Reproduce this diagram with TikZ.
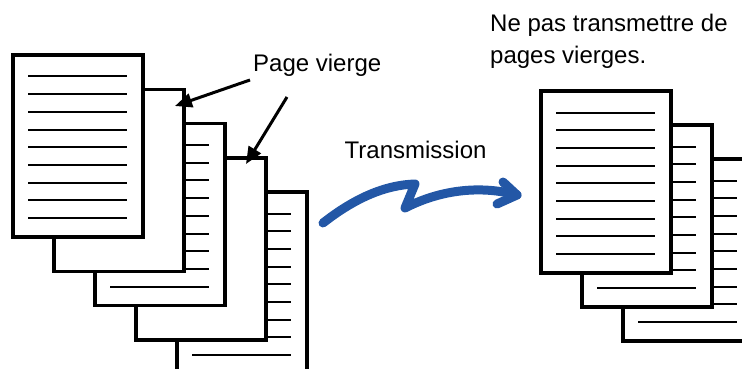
\documentclass[tikz,border=0pt]{standalone}
\usepackage{fontspec}
\setmainfont{Liberation Sans}
\usetikzlibrary{arrows.meta}
\definecolor{sendblue}{RGB}{35,87,166}
% nine ruled lines of a sheet whose top left corner is (#1,#2)
\newcommand{\sheetlines}[2]{%
  \foreach \k in {0,...,8}
    \draw[textline] (#1+15,#2+21.5+17.7*\k) -- ++(99,0);}
\begin{document}
\begin{tikzpicture}[x=1pt, y=-1pt,
  sheet/.style={draw, fill=white, line width=3.3pt},
  textline/.style={line width=2pt},
  note/.style={font=\fontsize{24}{28}\selectfont, inner sep=0pt, anchor=base west},
  pointer/.style={line width=3pt, -{Triangle[length=17pt, width=14pt]}},
  wave/.style={draw=sendblue, line width=9pt, line cap=round, line join=round}]
\clip (0,0) rectangle (742,369);
% left stack, back to front
\draw[sheet] (177,192) rectangle ++(130,182); \sheetlines{177}{192}
\draw[sheet] (136,158) rectangle ++(130,182);
\draw[sheet] (95,123.5) rectangle ++(130,182); \sheetlines{95}{123.5}
\draw[sheet] (54,89.5) rectangle ++(130,182);
\draw[sheet] (13,55) rectangle ++(130,182); \sheetlines{13}{55}
% right stack
\draw[sheet] (623,159) rectangle ++(130,182); \sheetlines{623}{159}
\draw[sheet] (582,125) rectangle ++(130,182); \sheetlines{582}{125}
\draw[sheet] (541,91) rectangle ++(130,182); \sheetlines{541}{91}
% labels
\node[note] (blank) at (253,71.7) {Page vierge};
\node[note] (send) at (344.5,158.3) {Transmission};
\node[note] (rule1) at (490,31.7) {Ne pas transmettre de};
\node[note] (rule2) at (490,63.5) {pages vierges.};
\coordinate (from1) at (250,80);
\coordinate (to1) at (175,106);
\coordinate (from2) at (287,97);
\coordinate (to2) at (246,164);
\draw[pointer] (from1) -- (to1);
\draw[pointer] (from2) -- (to2);
% transmission arrow
\draw[wave] (323,223) .. controls (355,198) and (385,185) .. (415,184)
  -- (405,208) .. controls (440,190) and (480,185) .. (517,195);
\draw[wave] (503,182) -- (517,195) -- (497,204);
\end{tikzpicture}
\end{document}
